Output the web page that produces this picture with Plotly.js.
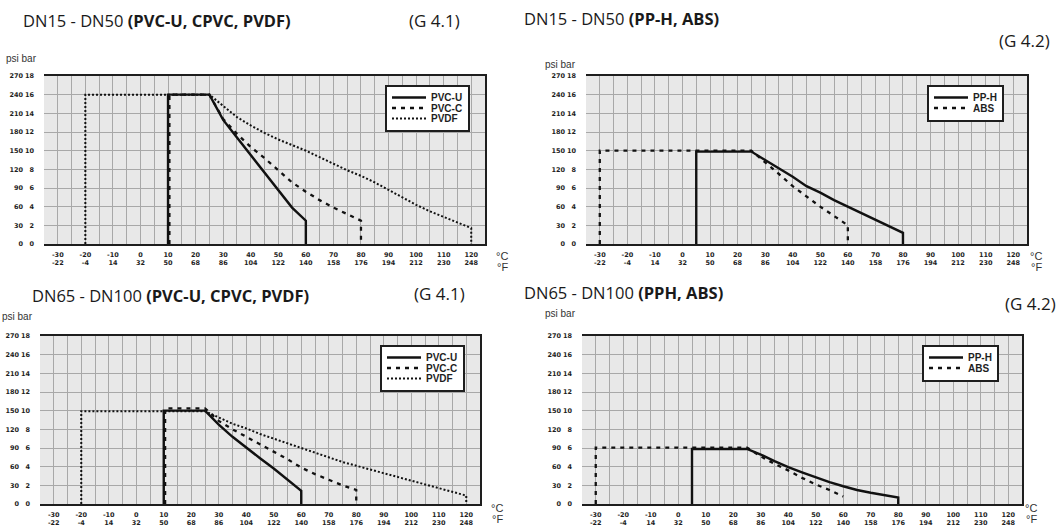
<!DOCTYPE html>
<html><head><meta charset="utf-8">
<script src="https://cdn.plot.ly/plotly-3.0.1.min.js"></script>
<style>html,body{margin:0;padding:0;background:#fff}#chart{width:1056px;height:527px}</style>
</head><body><div id="chart"></div>
<script>
// ---------- tick labels ----------
const tempC = [-30,-20,-10,0,10,20,30,40,50,60,70,80,90,100,110,120];
const tempF = [-22,-4,14,32,50,68,86,104,122,140,158,176,194,212,230,248];
const barTicks = [0,2,4,6,8,10,12,14,16,18];
const psiTicks = [0,30,60,90,120,150,180,210,240,270];

// ---------- G 4.1  DN15-DN50 ----------
const g1PvcuX = [10,10,25,30,35,40,45,50,55,60,60];
const g1PvcuY = [0,16,16,13.3,11.4,9.5,7.6,5.7,3.9,2.5,0];
const g1PvccX = [10.5,10.5,25,30,35,40,45,50,55,60,65,70,75,80,80];
const g1PvccY = [0,16,16,13.4,11.8,10.4,9.2,7.9,6.6,5.6,4.7,3.9,3.2,2.5,0];
const g1PvdfX = [-20,-20,25,30,35,40,45,50,55,60,65,70,75,80,85,90,95,100,105,110,115,120,120];
const g1PvdfY = [0,16,16,14.8,13.6,12.7,11.9,11.2,10.6,10.0,9.3,8.6,7.9,7.3,6.6,5.8,5.0,4.2,3.5,2.9,2.3,1.7,0];

// ---------- G 4.2  DN15-DN50 ----------
const g2PphX = [5,5,25,30,35,40,45,50,55,60,65,70,75,80,80];
const g2PphY = [0,9.9,9.9,9.0,8.1,7.2,6.2,5.5,4.7,4.0,3.3,2.6,1.9,1.2,0];
const g2AbsX = [-30,-30,25,30,35,40,45,50,55,60,60];
const g2AbsY = [0,10,10,8.8,7.5,6.2,5.1,4.0,3.0,2.0,0];

// ---------- G 4.1  DN65-DN100 ----------
const g3PvcuX = [10,10,25,30,35,40,45,50,55,60,60];
const g3PvcuY = [0,10,10,8.5,7.2,6.0,4.9,3.8,2.6,1.4,0];
const g3PvccX = [10.5,10.5,25,30,35,40,45,50,55,60,65,70,75,80,80];
const g3PvccY = [0,10.25,10.25,8.9,8.0,7.2,6.4,5.6,4.8,3.9,3.2,2.6,2.0,1.5,0];
const g3PvdfX = [-20,-20,25,30,35,40,45,50,55,60,65,70,75,80,85,90,95,100,105,110,115,120,120];
const g3PvdfY = [0,9.95,9.95,9.3,8.6,8.1,7.5,7.0,6.5,6.0,5.5,5.0,4.5,4.1,3.7,3.3,2.9,2.5,2.1,1.7,1.3,0.9,0];

// ---------- G 4.2  DN65-DN100 ----------
const g4PphX = [5,5,25,30,35,40,45,50,55,60,65,70,75,80,80];
const g4PphY = [0,5.9,5.9,5.3,4.6,3.95,3.4,2.85,2.35,1.9,1.5,1.2,0.95,0.7,0];
const g4AbsX = [-30,-30,25,30,35,40,45,50,55,60];
const g4AbsY = [0,6.05,6.05,5.1,4.3,3.6,2.8,2.1,1.5,0.8];

// ---------- layout helpers ----------
const W = 1056, H = 527;
const ink = '#1e1e1e';
const gridColor = '#a8a8a8';
const tickFont = {family:'DejaVu Sans', size:6.5, color:ink, weight:'bold'};
// plot boxes [left, right, top, bottom] in px
const boxes = [[44,485,76,244],[586,1027,76,244],[40,480,336,504],[582,1022,336,504]];

const layout = {
  width:W, height:H, margin:{l:0,r:0,t:0,b:0},
  paper_bgcolor:'#ffffff', plot_bgcolor:'#e8e8e8',
  showlegend:true, annotations:[]
};

const tickText = tempC.map((c,i)=>c+'<br>'+tempF[i]);

boxes.forEach((b,i)=>{
  const n = i+1, sfx = n===1?'':String(n);
  const [l,r,t,bt] = b;
  layout['xaxis'+sfx] = {
    domain:[l/W, r/W], anchor:'y'+sfx, range:[-35,125],
    tickmode:'array', tickvals:tempC, ticktext:tickText, ticks:'', ticklabelstandoff:3,
    tickfont:tickFont, showgrid:true, gridcolor:gridColor, gridwidth:1,
    minor:{tickmode:'linear', tick0:-35, dtick:5, showgrid:true, gridcolor:gridColor, gridwidth:1},
    showline:true, mirror:true, linecolor:ink, linewidth:2, zeroline:false, fixedrange:true
  };
  layout['yaxis'+sfx] = {
    domain:[1-bt/H, 1-t/H], anchor:'x'+sfx, side:'right', range:[0,18],
    tickmode:'array', tickvals:barTicks, showticklabels:false, ticks:'',
    showgrid:true, gridcolor:gridColor, gridwidth:1,
    showline:true, linecolor:ink, linewidth:2, zeroline:false, fixedrange:true
  };
  // bar labels
  layout['yaxis'+(n+4)] = {
    overlaying:'y'+sfx, anchor:'free', position:(l-10)/W, side:'left', range:[0,18],
    tickmode:'array', tickvals:barTicks, ticks:'', tickfont:tickFont,
    showgrid:false, showline:false, zeroline:false, fixedrange:true
  };
  // psi labels
  layout['yaxis'+(n+8)] = {
    overlaying:'y'+sfx, anchor:'free', position:(l-21)/W, side:'left', range:[0,270],
    tickmode:'array', tickvals:psiTicks, ticks:'', tickfont:tickFont,
    showgrid:false, showline:false, zeroline:false, fixedrange:true
  };
  // units
  layout.annotations.push(
    {text:'°C', x:(r+17)/W, y:1-(bt+12)/H, xref:'paper', yref:'paper', showarrow:false,
     font:{family:'Liberation Sans', size:11, color:'#333'}},
    {text:'°F', x:(r+17)/W, y:1-(bt+23)/H, xref:'paper', yref:'paper', showarrow:false,
     font:{family:'Liberation Sans', size:11, color:'#333'}}
  );
  const legName = n===1?'legend':'legend'+n;
  layout[legName] = {
    x:(r-100)/W, y:1-(t+9)/H, xanchor:'left', yanchor:'top', xref:'paper', yref:'paper',
    bgcolor:'#ffffff', bordercolor:ink, borderwidth:2, itemwidth:34,
    font:{family:'Liberation Sans', size:10, color:ink, weight:'bold'},
    tracegroupgap:0, itemclick:false, itemdoubleclick:false
  };
});

// titles
const titleFont = {family:'Open Sans', size:16.5, color:'#1a1a1a'};
const gFont = {family:'Open Sans', size:17, color:'#1a1a1a'};
const psiFont = {family:'Liberation Sans', size:10, color:'#333'};
function ann(text,x,y,font,xa){layout.annotations.push({text, x:x/W, y:1-y/H, xref:'paper', yref:'paper', xanchor:xa||'left', yanchor:'middle', showarrow:false, font});}
ann('DN15 - DN50 <b>(PVC-U, CPVC, PVDF)</b>', 21, 20, titleFont);
ann('(G 4.1)', 407, 20, gFont);
ann('DN15 - DN50 <b>(PP-H, ABS)</b>', 522, 18, titleFont);
ann('(G 4.2)', 1052, 41, gFont, 'right');
ann('DN65 - DN100 <b>(PVC-U, CPVC, PVDF)</b>', 30, 295, titleFont);
ann('(G 4.1)', 412, 293, gFont);
ann('DN65 - DN100 <b>(PPH, ABS)</b>', 522, 292, titleFont);
ann('(G 4.2)', 1003, 303, gFont);
ann('psi bar', 4, 59, psiFont);
ann('psi bar', 543, 64, psiFont);
ann('psi bar', 0, 316, psiFont);
ann('psi bar', 543, 313, psiFont);

function tr(x,y,name,dash,w,n){
  const sfx = n===1?'':String(n);
  return {x, y, name, type:'scatter', mode:'lines', xaxis:'x'+sfx, yaxis:'y'+sfx,
    legend: n===1?'legend':'legend'+n, hoverinfo:'skip',
    line:{color:'#111', width:w, dash:dash}};
}
const SOLID='solid', DASH='4px,5px', DOT='2px,2px';
const data = [
  tr(g1PvcuX,g1PvcuY,'PVC-U',SOLID,2.4,1), tr(g1PvccX,g1PvccY,'PVC-C',DASH,2.3,1), tr(g1PvdfX,g1PvdfY,'PVDF',DOT,2,1),
  tr(g2PphX,g2PphY,'PP-H',SOLID,2.4,2), tr(g2AbsX,g2AbsY,'ABS',DASH,2.3,2),
  tr(g3PvcuX,g3PvcuY,'PVC-U',SOLID,2.4,3), tr(g3PvccX,g3PvccY,'PVC-C',DASH,2.3,3), tr(g3PvdfX,g3PvdfY,'PVDF',DOT,2,3),
  tr(g4PphX,g4PphY,'PP-H',SOLID,2.4,4), tr(g4AbsX,g4AbsY,'ABS',DASH,2.3,4)
];
// empty helper traces so the label axes exist
for(let n=1;n<=4;n++){
  const sfx = n===1?'':String(n);
  data.push({x:[null],y:[null],type:'scatter',mode:'lines',xaxis:'x'+sfx,yaxis:'y'+(n+4),showlegend:false,hoverinfo:'skip'});
  data.push({x:[null],y:[null],type:'scatter',mode:'lines',xaxis:'x'+sfx,yaxis:'y'+(n+8),showlegend:false,hoverinfo:'skip'});
}

// compact the legend rows (the printed chart uses tight 10px rows)
function compactLegends(gd){
  const ROW = 10.5;
  gd.querySelectorAll('g.infolayer > g[class^="legend"]').forEach(lg=>{
    const items = Array.from(lg.querySelectorAll('g.traces'));
    if(items.length < 2) return;
    const parse = el => {
      const m = /translate\(\s*([-\d.e]+)[ ,]+([-\d.e]+)\s*\)/.exec(el.getAttribute('transform')||'');
      return m ? [parseFloat(m[1]), parseFloat(m[2])] : [0,0];
    };
    const p0 = parse(items[0]), p1 = parse(items[1]);
    const step = p1[1]-p0[1];
    const top = p0[1] - 4;
    items.forEach((it,k)=>{
      const p = parse(it);
      it.setAttribute('transform', `translate(${p[0]},${top + k*ROW})`);
    });
    const shrink = (items.length-1)*(step-ROW) + 4 + 3;
    const bg = lg.querySelector('rect.bg');
    if(bg){
      const h = parseFloat(bg.getAttribute('height'));
      bg.setAttribute('height', Math.max(10, h - shrink));
    }
  });
}
Plotly.newPlot('chart', data, layout, {staticPlot:true, displayModeBar:false}).then(compactLegends);
</script></body></html>
